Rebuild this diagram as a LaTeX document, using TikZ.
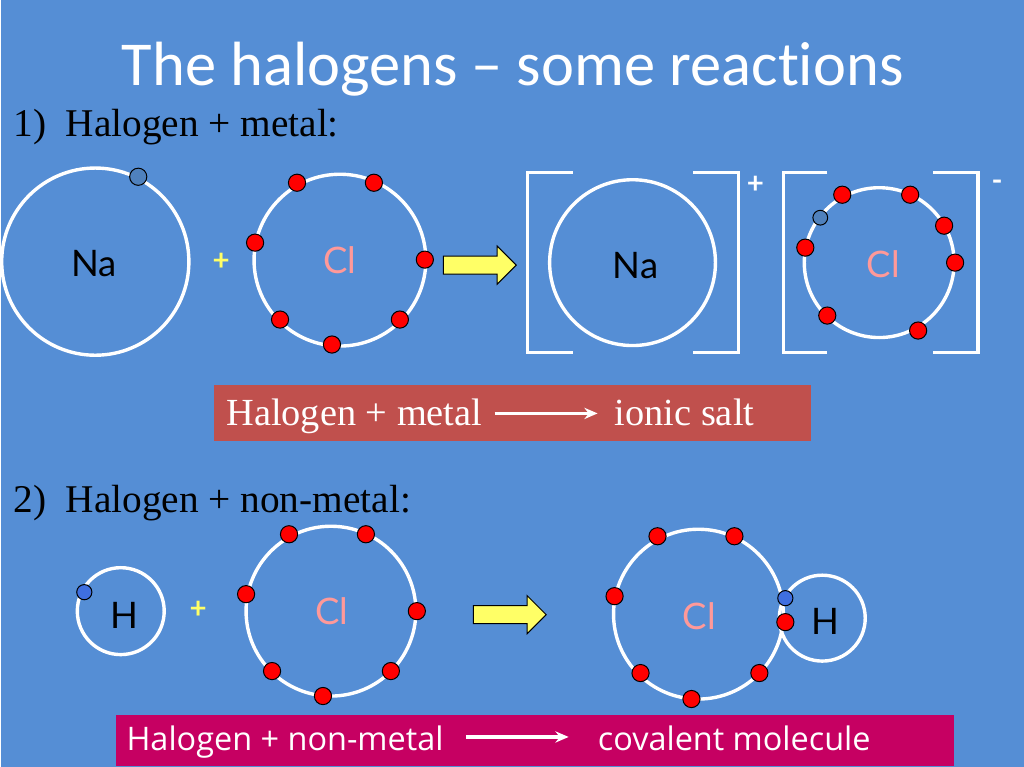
\documentclass[tikz,border=0pt]{standalone}
\usepackage{fontspec}
\setmainfont{Liberation Serif}
\newfontfamily\titlefont[Ligatures=NoCommon]{Carlito}
\newfontfamily\boxfont{Open Sans}
\newfontfamily\atomfont{Lato}
\usetikzlibrary{shapes}
\usetikzlibrary{arrows.meta}
\definecolor{slide}{HTML}{558ED5}
\definecolor{elec}{HTML}{FF0000}
\definecolor{lost}{HTML}{4F81BD}
\definecolor{hyd}{HTML}{3F6FE0}
\definecolor{chlor}{HTML}{FF9999}
\definecolor{salt}{HTML}{C0504D}
\definecolor{cova}{HTML}{C60062}
\definecolor{pointer}{HTML}{FFFF66}

\begin{document}
\begin{tikzpicture}[
  x=0.025cm,y=-0.025cm,
  shell/.style={
    circle,
    draw=white,
    line width=0.085cm,
    inner sep=0pt,
    minimum size=#1*0.05cm},
  dot/.style={
    circle,
    draw=black,
    line width=0.025cm,
    inner sep=0pt,
    fill=#1,
    minimum size=0.43cm},
  atom/.style={
    font=\atomfont\fontsize{26}{26}\selectfont,
    text=#1,
    inner sep=0pt},
  sign/.style={
    font=\atomfont\bfseries\fontsize{21}{21}\selectfont,
    text=#1,
    inner sep=0pt},
  brack/.style={
    draw=white,
    line width=0.08cm},
  heading/.style={
    font=\fontsize{28}{28}\selectfont,
    text=black,
    anchor=base west,
    inner sep=0pt},
  pointy/.style={
    shape=single arrow,
    draw=black,
    line width=0.025cm,
    fill=pointer,
    inner xsep=0pt,
    inner ysep=0.2125cm,
    single arrow head extend=0.25cm,
    single arrow tip angle=90,
    minimum height=1.825cm},
  banner/.style={
    fill=#1,
    inner sep=0pt,
    anchor=north west},
  serifbox/.style={
    font=\fontsize{27.3}{27.3}\selectfont,
    text=white,
    anchor=base west,
    inner sep=0pt},
  sansbox/.style={
    font=\boxfont\fontsize{23.1}{23.1}\selectfont,
    text=white,
    anchor=base west,
    inner sep=0pt},
  react/.style={
    -{Stealth[length=0.33cm,width=0.28cm]},
    draw=white,
    line width=0.09cm},
]

  \fill[slide] (0,0) rectangle (1024,768);

  \node[font=\titlefont\fontsize{44.5}{44.5}\selectfont,text=white,inner sep=0pt,anchor=base] (title)
    at (512,85.5) {The halogens – some reactions};
  \node[heading] (head_a) at (12,136.5) {1)};
  \node[heading] (head_a_t) at (64,136.5) {Halogen + metal:};
  \node[heading] (head_b) at (12,513.5) {2)};
  \node[heading] (head_b_t) at (64,513.5) {Halogen + non-metal:};

  % Sodium + chlorine
  \node[shell=93.7] (na_a) at (94,262) {};
  \node[atom=black] (na_a_t) at (93,264) {Na};
  \node[dot=lost] (na_a_e) at (137,177) {};
  \node[shell=86] (cl_a) at (339,260.5) {};
  \node[atom=chlor] (cl_a_t) at (339,261) {Cl};
  \foreach \ex/\ey [count=\i] in {296/183,373/183,254/243,424/260,279/320,399/320,331/345} {
    \node[dot=elec] (cl_a_\i) at (\ex,\ey) {};
  }
  \node[sign=pointer] (plus_a) at (220,262) {+};
  \node[pointy] (go_a) at (474.5,265.5) {};

  % Ions
  \node[shell=83] (na_b) at (632,263) {};
  \node[atom=black] (na_b_t) at (635,266) {Na};
  \node[shell=75] (cl_b) at (879,263) {};
  \node[atom=chlor] (cl_b_t) at (883,265) {Cl};
  \foreach \ex/\ey [count=\i] in {842/195,910/195,944/226,955/263,805/248,827/316,918/331} {
    \node[dot=elec] (cl_b_\i) at (\ex,\ey) {};
  }
  \node[dot=lost,minimum size=0.37cm] (cl_b_e) at (820,218) {};
  \draw[brack] (572,173) -- (527,173) -- (527,353) -- (572,353);
  \draw[brack] (693,173) -- (738,173) -- (738,353) -- (693,353);
  \draw[brack] (827,173) -- (783,173) -- (783,353) -- (827,353);
  \draw[brack] (933,173) -- (978,173) -- (978,353) -- (933,353);
  \node[sign=white] (plus_b) at (755,185) {+};
  \node[sign=white] (minus_b) at (997,186) {-};

  % Ionic salt
  \node[banner=salt,minimum width=14.925cm,minimum height=1.4cm] (box_a) at (213,385) {};
  \node[serifbox] (box_a_l) at (225,426) {Halogen + metal};
  \node[serifbox] (box_a_r) at (614,426) {ionic salt};
  \coordinate (ra) at (494,414);
  \coordinate (rb) at (597,414);
  \draw[react] (ra) -- (rb);

  % Hydrogen + chlorine
  \node[shell=43.5] (h_a) at (119.5,612) {};
  \node[atom=black] (h_a_t) at (123,616) {H};
  \node[dot=hyd,minimum size=0.38cm] (h_a_e) at (83,593) {};
  \node[sign=pointer] (plus_c) at (197,611) {+};
  \node[shell=85] (cl_c) at (330,612) {};
  \node[atom=chlor] (cl_c_t) at (331,612) {Cl};
  \foreach \ex/\ey [count=\i] in {288/535,365/535,245/595,416/612,271/672,390/672,322/697} {
    \node[dot=elec] (cl_c_\i) at (\ex,\ey) {};
  }
  \node[pointy] (go_b) at (504.5,615.5) {};

  % HCl
  \node[shell=43] (h_b) at (822,619) {};
  \node[shell=85] (cl_d) at (698,615) {};
  \node[atom=chlor] (cl_d_t) at (699,617) {Cl};
  \node[atom=black] (h_b_t) at (825,622) {H};
  \foreach \ex/\ey [count=\i] in {657/537,734/537,614/597,640/674,759/674,691/700,785/623} {
    \node[dot=elec] (cl_d_\i) at (\ex,\ey) {};
  }
  \node[dot=hyd,minimum size=0.38cm] (cl_d_e) at (785,599) {};

  % Covalent molecule
  \node[banner=cova,minimum width=20.975cm,minimum height=1.275cm] (box_b) at (114,716) {};
  \node[sansbox] (box_b_l) at (125,752) {Halogen + non-metal};
  \node[sansbox] (box_b_r) at (597,752) {covalent molecule};
  \coordinate (rc) at (465,738);
  \coordinate (rd) at (568,738);
  \draw[react] (rc) -- (rd);

\end{tikzpicture}
\end{document}
